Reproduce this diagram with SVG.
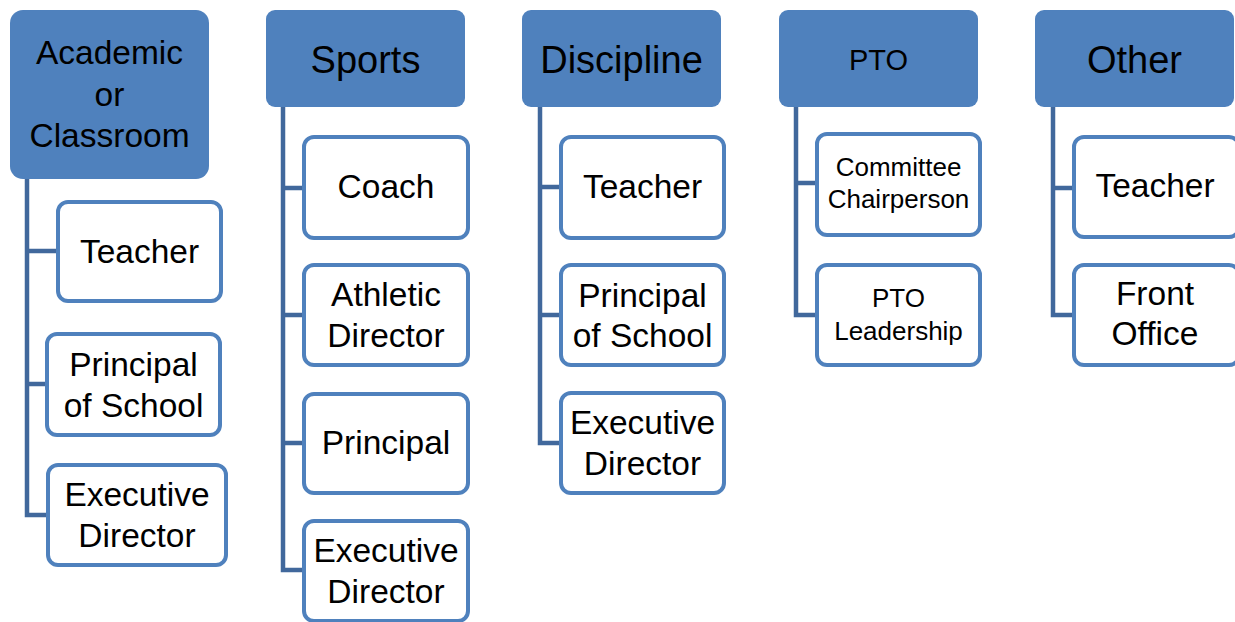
<svg xmlns="http://www.w3.org/2000/svg" width="1235" height="622" viewBox="0 0 1235 622">
<style>
.hd{fill:#4f81bd;}
.ch{fill:#ffffff;stroke:#4f81bd;stroke-width:4;}
.cn{fill:none;stroke:#41689c;stroke-width:4.5;stroke-linejoin:miter;stroke-linecap:butt;}
text{font-family:"Liberation Sans",Arial,sans-serif;fill:#000;text-anchor:middle;}
.t32{font-size:33.5px;}
.t38{font-size:38px;}
.t29{font-size:29px;}
.t25{font-size:26px;}
</style>
<rect width="1235" height="622" fill="#ffffff"/>
<g id="connectors">
<path class="cn" d="M27 179 V515 H48 M27 251 H58 M27 384 H47"/>
<path class="cn" d="M283 107 V570 H304 M283 188 H304 M283 315 H304 M283 443 H304"/>
<path class="cn" d="M540 107 V443 H561 M540 187 H561 M540 315 H561"/>
<path class="cn" d="M796 107 V315 H817 M796 183 H817"/>
<path class="cn" d="M1053 107 V315 H1074 M1053 188 H1074"/>
</g>
<g id="academic">
<rect class="hd" x="10" y="10" width="199" height="169" rx="13"/>
<text class="t32" x="109.5"><tspan x="109.5" y="64">Academic</tspan><tspan x="109.5" y="106">or</tspan><tspan x="109.5" y="147">Classroom</tspan></text>
</g>
<g id="academic-teacher">
<rect class="ch" x="58" y="202" width="163" height="99" rx="10"/>
<text class="t32" x="139.5" y="263">Teacher</text>
</g>
<g id="academic-principal">
<rect class="ch" x="47" y="334" width="173" height="101" rx="10"/>
<text class="t32"><tspan x="133.5" y="376">Principal</tspan><tspan x="133.5" y="417">of School</tspan></text>
</g>
<g id="academic-executive">
<rect class="ch" x="48" y="465" width="178" height="100" rx="10"/>
<text class="t32"><tspan x="137" y="506">Executive</tspan><tspan x="137" y="547">Director</tspan></text>
</g>
<g id="sports">
<rect class="hd" x="266" y="10" width="199" height="97" rx="9"/>
<text class="t38" x="365.5" y="73">Sports</text>
</g>
<g id="sports-coach">
<rect class="ch" x="304" y="137" width="164" height="101" rx="10"/>
<text class="t32" x="386" y="198">Coach</text>
</g>
<g id="sports-athletic">
<rect class="ch" x="304" y="265" width="164" height="100" rx="10"/>
<text class="t32"><tspan x="386" y="306">Athletic</tspan><tspan x="386" y="347">Director</tspan></text>
</g>
<g id="sports-principal">
<rect class="ch" x="304" y="394" width="164" height="99" rx="10"/>
<text class="t32" x="386" y="454">Principal</text>
</g>
<g id="sports-executive">
<rect class="ch" x="304" y="521" width="164" height="100" rx="10"/>
<text class="t32"><tspan x="386" y="562">Executive</tspan><tspan x="386" y="603">Director</tspan></text>
</g>
<g id="discipline">
<rect class="hd" x="522" y="10" width="199" height="97" rx="9"/>
<text class="t38" x="621.5" y="73">Discipline</text>
</g>
<g id="discipline-teacher">
<rect class="ch" x="561" y="137" width="163" height="101" rx="10"/>
<text class="t32" x="642.5" y="198">Teacher</text>
</g>
<g id="discipline-principal">
<rect class="ch" x="561" y="265" width="163" height="100" rx="10"/>
<text class="t32"><tspan x="642.5" y="307">Principal</tspan><tspan x="642.5" y="347">of School</tspan></text>
</g>
<g id="discipline-executive">
<rect class="ch" x="561" y="393" width="163" height="100" rx="10"/>
<text class="t32"><tspan x="642.5" y="434">Executive</tspan><tspan x="642.5" y="475">Director</tspan></text>
</g>
<g id="pto">
<rect class="hd" x="779" y="10" width="199" height="97" rx="9"/>
<text class="t29" x="878.5" y="70">PTO</text>
</g>
<g id="pto-committee">
<rect class="ch" x="817" y="134" width="163" height="101" rx="10"/>
<text class="t25"><tspan x="898.5" y="176">Committee</tspan><tspan x="898.5" y="208">Chairperson</tspan></text>
</g>
<g id="pto-leadership">
<rect class="ch" x="817" y="265" width="163" height="100" rx="10"/>
<text class="t25"><tspan x="898.5" y="307">PTO</tspan><tspan x="898.5" y="340">Leadership</tspan></text>
</g>
<g id="other">
<rect class="hd" x="1035" y="10" width="199" height="97" rx="9"/>
<text class="t38" x="1134.5" y="73">Other</text>
</g>
<g id="other-teacher">
<rect class="ch" x="1074" y="137" width="165" height="100" rx="10"/>
<text class="t32" x="1155" y="197">Teacher</text>
</g>
<g id="other-front">
<rect class="ch" x="1074" y="265" width="165" height="100" rx="10"/>
<text class="t32"><tspan x="1155" y="305">Front</tspan><tspan x="1155" y="345">Office</tspan></text>
</g>
</svg>
